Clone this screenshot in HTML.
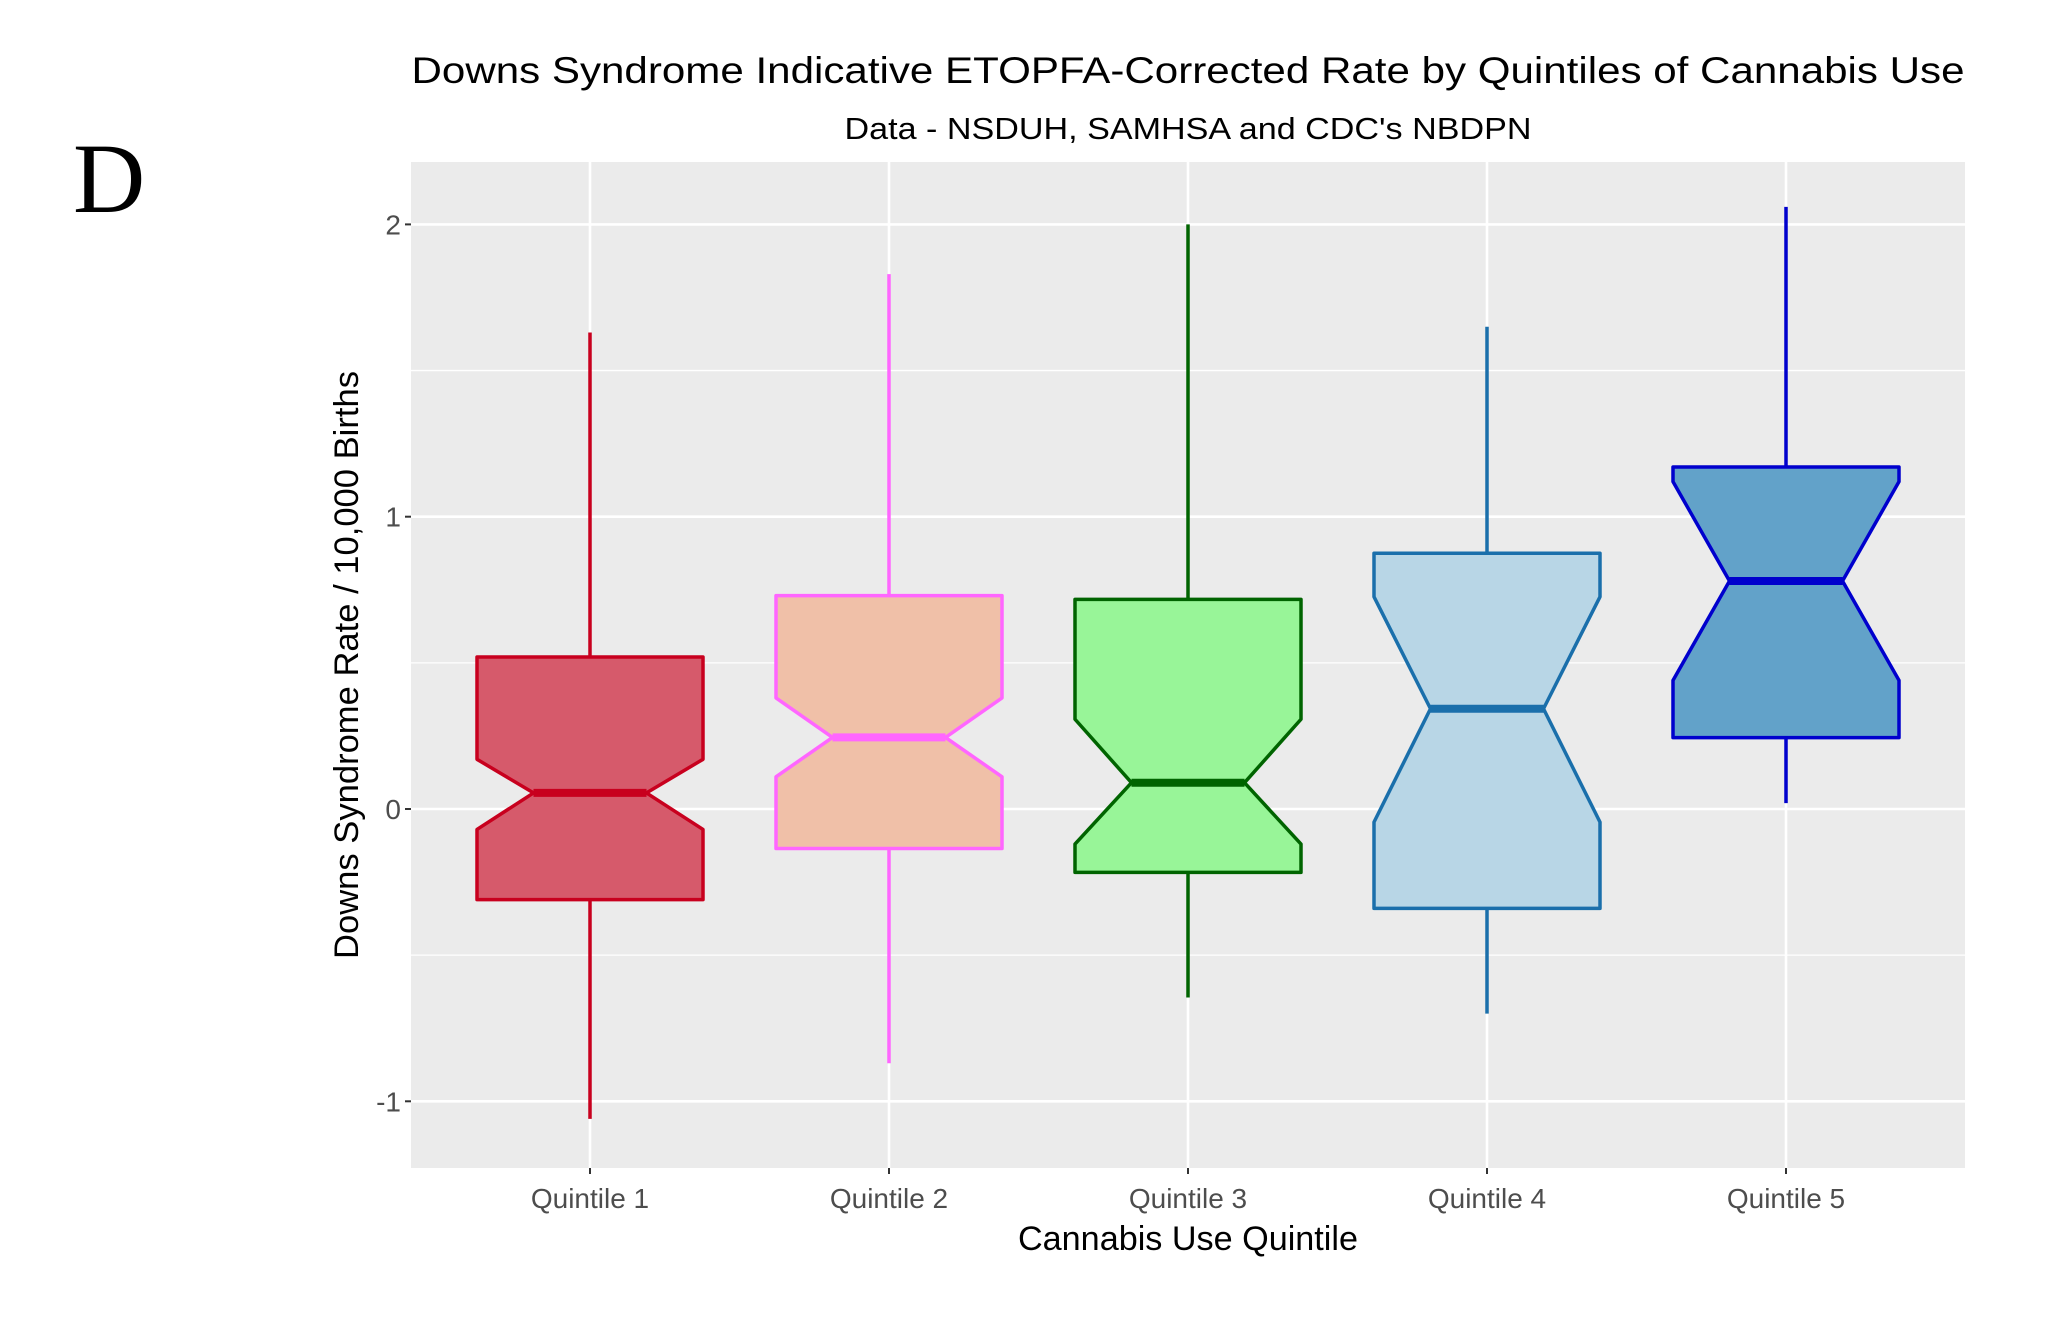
<!DOCTYPE html>
<html><head><meta charset="utf-8"><style>
html,body{margin:0;padding:0;background:#fff;}
svg{display:block;font-family:"Liberation Sans",Arial,sans-serif;}
</style></head><body>
<svg id="chart" width="2063" height="1320" viewBox="0 0 2063 1320" xmlns="http://www.w3.org/2000/svg">
<text x="73" y="212" font-family="Liberation Serif, serif" font-size="100">D</text>
<text x="1188" y="83" text-anchor="middle" font-size="37" textLength="1553" lengthAdjust="spacingAndGlyphs" fill="#000">Downs Syndrome Indicative ETOPFA-Corrected Rate by Quintiles of Cannabis Use</text>
<text x="1188" y="139" text-anchor="middle" font-size="31" textLength="687" lengthAdjust="spacingAndGlyphs" fill="#000">Data - NSDUH, SAMHSA and CDC's NBDPN</text>
<rect x="411" y="162" width="1554" height="1006" fill="#ebebeb"/>
<g id="grid"></g>
<g id="boxes"></g>
<g id="axes"></g>
<text x="1188" y="1250" text-anchor="middle" font-size="34" textLength="340" lengthAdjust="spacingAndGlyphs" fill="#000">Cannabis Use Quintile</text>
<text transform="translate(358,665) rotate(-90)" text-anchor="middle" font-size="34" textLength="588" lengthAdjust="spacingAndGlyphs" fill="#000">Downs Syndrome Rate / 10,000 Births</text>
</svg>
<script>
const categories = ["Quintile 1","Quintile 2","Quintile 3","Quintile 4","Quintile 5"];
const whiskerLow = [-1.06,-0.87,-0.645,-0.70,0.02];
const q1 = [-0.31,-0.135,-0.217,-0.34,0.244];
const medians = [0.055,0.245,0.09,0.343,0.78];
const q3 = [0.52,0.73,0.717,0.875,1.17];
const whiskerHigh = [1.63,1.83,2.0,1.65,2.06];
const notchLow = [-0.07,0.11,-0.12,-0.045,0.44];
const notchHigh = [0.17,0.38,0.307,0.726,1.12];
const yTicks = [-1,0,1,2];
const yTickLabels = ["-1","0","1","2"];
const fills = ["#d65a6b","#f0c0a8","#98f598","#b8d6e6","#62a2c9"];
const strokes = ["#c8001e","#ff66ff","#006400","#1a6fab","#0000cd"];

const NS="http://www.w3.org/2000/svg";
const PL=411, PR=1965, PT=162, PB=1168;
function y(v){return 809 - v*292.3;}
function x(i){return 590 + i*299;}
function mk(tag, attrs, parent){const e=document.createElementNS(NS,tag);for(const k in attrs)e.setAttribute(k,attrs[k]);parent.appendChild(e);return e;}
const grid=document.getElementById('grid'), boxes=document.getElementById('boxes'), axes=document.getElementById('axes');
for(let i=0;i<yTicks.length-1;i++){
  const v=(yTicks[i]+yTicks[i+1])/2;
  const l=mk('line',{x1:PL,x2:PR,y1:y(v),y2:y(v),stroke:'#fff','stroke-width':1.3},grid);
  
  
}
{const v=yTicks[0]-0.5; if(y(v)<PB){const l=mk('line',{x1:PL,x2:PR,y1:y(v),y2:y(v),stroke:'#fff','stroke-width':1.3},grid);}}
yTicks.forEach((v,i)=>{
  const l=mk('line',{x1:PL,x2:PR,y1:y(v),y2:y(v),stroke:'#fff','stroke-width':2.6},grid);
  
  
  const t=mk('line',{x1:PL-6,x2:PL,y1:y(v),y2:y(v),stroke:'#333','stroke-width':2},axes);
  
  
  const tx=mk('text',{x:PL-10,y:y(v)+10,'text-anchor':'end','font-size':28,fill:'#4d4d4d'},axes);
  tx.textContent=yTickLabels[i];
  
  
});
categories.forEach((c,i)=>{
  const cx=x(i);
  const g=mk('line',{x1:cx,x2:cx,y1:PT,y2:PB,stroke:'#fff','stroke-width':2.6},grid);
  
  
  const t=mk('line',{x1:cx,x2:cx,y1:PB,y2:PB+6,stroke:'#333','stroke-width':2},axes);
  
  
  const tx=mk('text',{x:cx,y:1208,'text-anchor':'middle','font-size':28,fill:'#4d4d4d'},axes);
  tx.textContent=c;
  
  
  const gr=mk('g',{},boxes);
  
  
  const w=mk('line',{x1:cx,x2:cx,y1:y(whiskerHigh[i]),y2:y(whiskerLow[i]),stroke:strokes[i],'stroke-width':3.5},gr);
  
  
  const hw=113, nw=hw*0.5;
  const pts=[[cx-hw,y(q3[i])],[cx+hw,y(q3[i])],[cx+hw,y(notchHigh[i])],[cx+nw,y(medians[i])],[cx+hw,y(notchLow[i])],[cx+hw,y(q1[i])],[cx-hw,y(q1[i])],[cx-hw,y(notchLow[i])],[cx-nw,y(medians[i])],[cx-hw,y(notchHigh[i])]];
  const p=mk('polygon',{points:pts.map(p=>p.join(',')).join(' '),fill:fills[i],stroke:strokes[i],'stroke-width':3.5,'stroke-linejoin':'round'},gr);
  
  
  const m=mk('line',{x1:cx-nw,x2:cx+nw,y1:y(medians[i]),y2:y(medians[i]),stroke:strokes[i],'stroke-width':8},gr);
  
  
});
</script>
</body></html>
